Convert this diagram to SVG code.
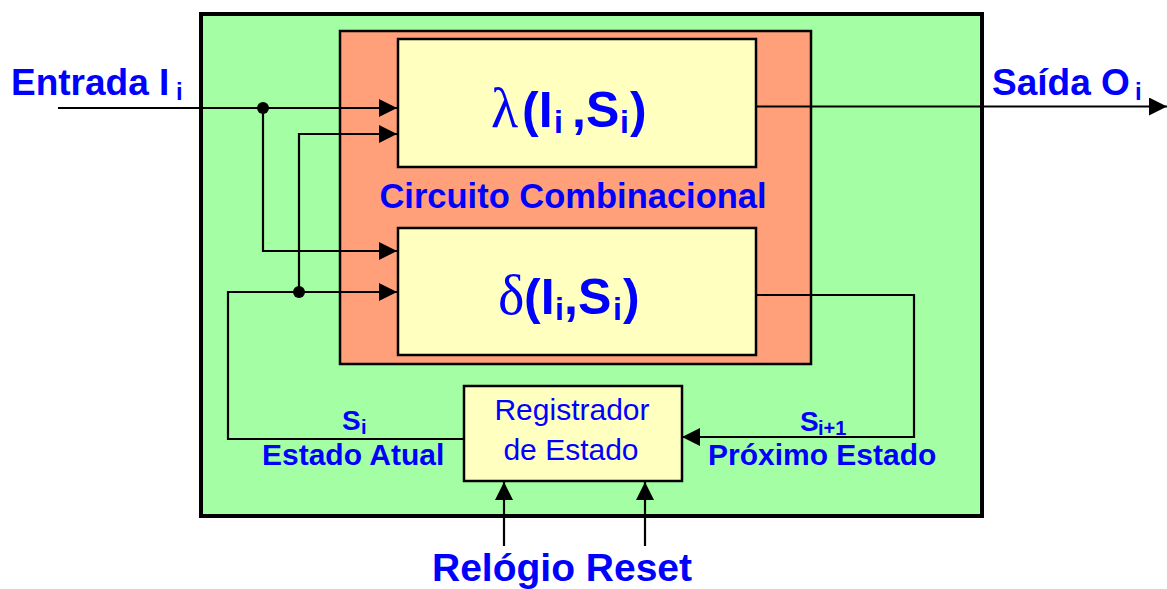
<svg xmlns="http://www.w3.org/2000/svg" width="1167" height="589" viewBox="0 0 1167 589">
<style>
.lbl{font-family:"Liberation Sans",Arial,sans-serif;font-weight:bold;fill:#0000FF}
.reg{font-family:"Liberation Sans",Arial,sans-serif;fill:#0000FF}
.greek{font-family:"Liberation Serif","DejaVu Serif",serif;fill:#0000FF}
.wire{fill:none;stroke:#000;stroke-width:2.2}
.arr{marker-end:url(#ah)}
.box{stroke:#000;stroke-width:2.5}
</style>
<defs>
<marker id="ah" markerUnits="userSpaceOnUse" markerWidth="18" markerHeight="18" refX="18" refY="9" orient="auto">
<path d="M0,0 L18,9 L0,18 z" fill="#000"/>
</marker>
</defs>
<rect width="1167" height="589" fill="#fff"/>
<g id="sistema">
<rect x="201" y="14" width="781" height="502" fill="#A4FFA4" stroke="#000" stroke-width="4"/>
</g>
<g id="circuito-combinacional">
<rect class="box" x="340" y="31" width="471" height="333" fill="#FFA07A"/>
<text class="lbl" x="573" y="208" font-size="34.5" text-anchor="middle">Circuito Combinacional</text>
</g>
<g id="lambda">
<rect class="box" x="398" y="39" width="358" height="128" fill="#FFFFBF"/>
<text y="127" font-size="50"><tspan class="greek" x="491" font-size="56">λ</tspan><tspan class="lbl" x="522">(I</tspan><tspan class="lbl" x="554" y="133" font-size="32">i</tspan><tspan class="lbl" x="572" y="127">,S</tspan><tspan class="lbl" x="620" y="133" font-size="32">i</tspan><tspan class="lbl" x="630" y="127">)</tspan></text>
</g>
<g id="delta">
<rect class="box" x="398" y="228" width="358" height="127" fill="#FFFFBF"/>
<text y="314" font-size="50"><tspan class="greek" x="498" font-size="56">δ</tspan><tspan class="lbl" x="524">(I</tspan><tspan class="lbl" x="555" y="320" font-size="32">i</tspan><tspan class="lbl" x="564" y="314">,S</tspan><tspan class="lbl" x="613" y="320" font-size="32">i</tspan><tspan class="lbl" x="623" y="314">)</tspan></text>
</g>
<g id="registrador">
<rect class="box" x="464" y="386" width="218" height="95" fill="#FFFFBF"/>
<text class="reg" x="572" y="420" font-size="30" text-anchor="middle">Registrador</text>
<text class="reg" x="571" y="460" font-size="30" text-anchor="middle">de Estado</text>
</g>
<g id="connectors">
<path class="wire arr" d="M58,108 H397"/>
<path class="wire arr" d="M263,108 V251 H397"/>
<path class="wire arr" d="M299,292 V134 H397"/>
<path class="wire arr" d="M464,439 H228 V292 H397"/>
<path class="wire arr" d="M756,106.5 H1167"/>
<path class="wire arr" d="M756,295 H914 V437 H682"/>
<path class="wire arr" d="M504,546 V482"/>
<path class="wire arr" d="M645,546 V482"/>
<circle cx="263" cy="108" r="6" fill="#000"/>
<circle cx="299" cy="292" r="6" fill="#000"/>
</g>
<g id="labels">
<text class="lbl" x="11" y="95" font-size="37">Entrada I<tspan x="176" y="100" font-size="24">i</tspan></text>
<text class="lbl" x="992" y="95" font-size="37">Saída O<tspan x="1135" y="100" font-size="24">i</tspan></text>
<text class="lbl" x="342" y="430" font-size="28">S<tspan x="361" y="434" font-size="20">i</tspan></text>
<text class="lbl" x="262" y="465" font-size="30">Estado Atual</text>
<text class="lbl" x="800" y="431" font-size="28">S<tspan x="818" y="435" font-size="20">i+1</tspan></text>
<text class="lbl" x="708" y="465" font-size="30">Próximo Estado</text>
<text class="lbl" x="562" y="581" font-size="39" text-anchor="middle">Relógio Reset</text>
</g>
</svg>
